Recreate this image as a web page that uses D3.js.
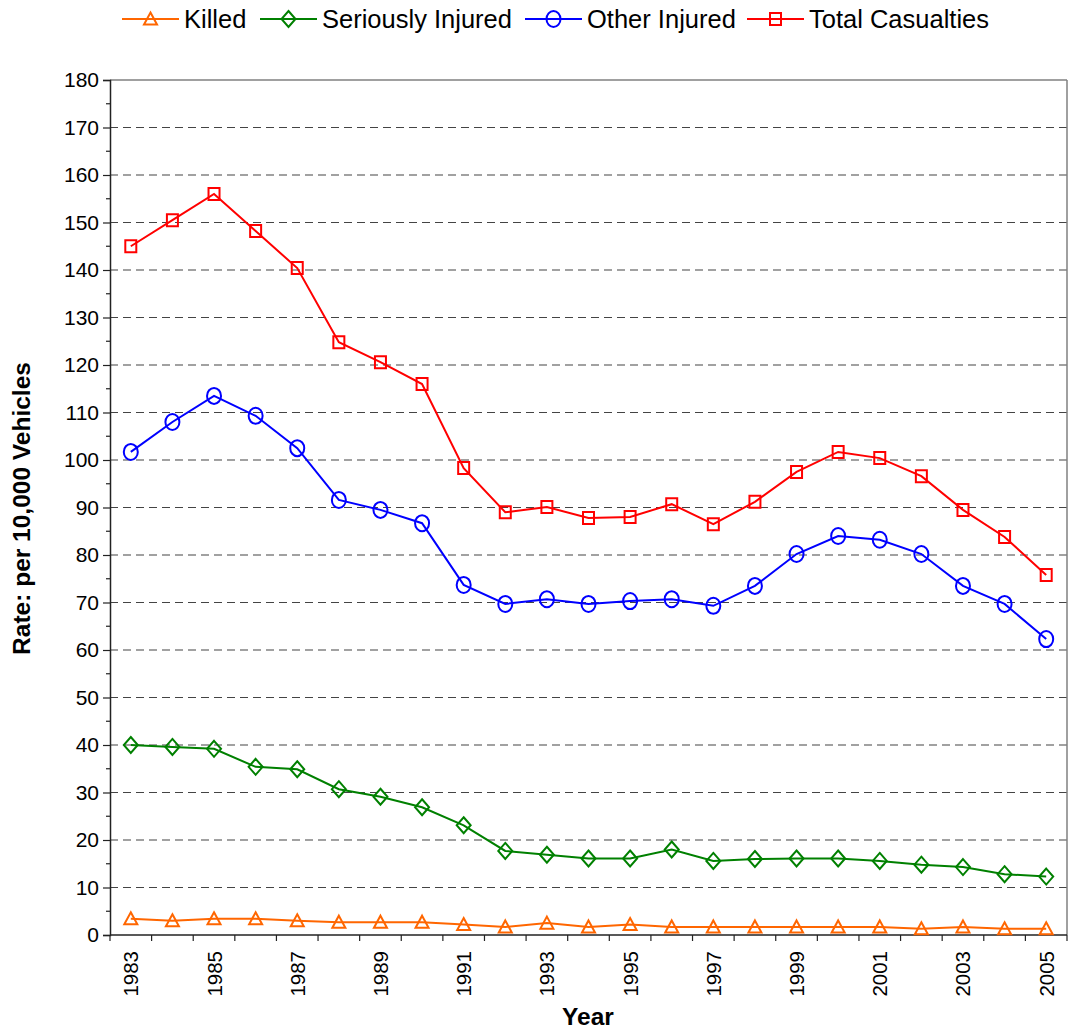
<!DOCTYPE html>
<html>
<head>
<meta charset="utf-8">
<script src="https://cdn.jsdelivr.net/npm/d3@7"></script>
<style>
  html, body { margin: 0; padding: 0; background: #fff; }
  svg { display: block; font-family: "Liberation Sans", Arial, sans-serif; }
</style>
</head>
<body>
<svg id="chart" width="1072" height="1035"></svg>
<script>
const years = [1983,1984,1985,1986,1987,1988,1989,1990,1991,1992,1993,1994,1995,1996,1997,1998,1999,2000,2001,2002,2003,2004,2005];
const killed = [3.4,3.0,3.4,3.4,3.0,2.7,2.7,2.7,2.2,1.7,2.5,1.7,2.2,1.7,1.7,1.7,1.7,1.7,1.7,1.3,1.7,1.3,1.3];
const seriouslyInjured = [40.0,39.6,39.2,35.4,34.9,30.7,29.1,26.9,23.1,17.7,16.9,16.1,16.1,18.0,15.6,16.0,16.1,16.1,15.6,14.8,14.3,12.8,12.3];
const otherInjured = [101.7,108.0,113.5,109.3,102.5,91.6,89.5,86.7,73.7,69.7,70.7,69.7,70.3,70.7,69.3,73.5,80.2,84.0,83.2,80.2,73.5,69.7,62.3];
const totalCasualties = [145.0,150.5,156.0,148.2,140.4,124.8,120.6,116.0,98.3,89.0,90.1,87.8,88.0,90.7,86.5,91.2,97.5,101.7,100.4,96.6,89.5,83.8,75.8];
const seriesNames = ["Killed","Seriously Injured","Other Injured","Total Casualties"];
const yTicks = [0,10,20,30,40,50,60,70,80,90,100,110,120,130,140,150,160,170,180];
const xLabelYears = [1983,1985,1987,1989,1991,1993,1995,1997,1999,2001,2003,2005];
const yTitle = "Rate: per 10,000 Vehicles";
const xTitle = "Year";

const seriesStyle = [
  {name: seriesNames[0], values: killed, color: "#FF6600", marker: "triangle"},
  {name: seriesNames[1], values: seriouslyInjured, color: "#008000", marker: "diamond"},
  {name: seriesNames[2], values: otherInjured, color: "#0000FF", marker: "circle"},
  {name: seriesNames[3], values: totalCasualties, color: "#FF0000", marker: "square"}
];

const L = 110, R = 1067, T = 80, B = 935;
const svg = d3.select("#chart");

const x = d3.scaleBand().domain(years).range([L, R]).padding(0);
const y = d3.scaleLinear().domain([0, 180]).range([B, T]);
const cx = yr => x(yr) + x.bandwidth() / 2;

// gridlines
svg.append("g").selectAll("line").data(yTicks.filter(t => t > 0 && t < 180)).join("line")
  .attr("x1", L).attr("x2", R)
  .attr("y1", d => y(d)).attr("y2", d => y(d))
  .attr("stroke", "#444").attr("stroke-width", 1.2).attr("stroke-dasharray", "8,5");

// plot border top/right
svg.append("line").attr("x1", L).attr("x2", R).attr("y1", y(180)).attr("y2", y(180))
  .attr("stroke", "#808080").attr("stroke-width", 1.5);
svg.append("line").attr("x1", R).attr("x2", R).attr("y1", T).attr("y2", B)
  .attr("stroke", "#808080").attr("stroke-width", 1.5);

// y axis
const yAxis = svg.append("g").attr("transform", `translate(${L},0)`)
  .call(d3.axisLeft(y).tickValues(yTicks).tickSize(7).tickPadding(4).tickFormat(d3.format("d")));
yAxis.select(".domain").attr("stroke", "#222").attr("stroke-width", 1.5);
yAxis.selectAll(".tick line").attr("stroke", "#222").attr("stroke-width", 1.2);
yAxis.selectAll("text").attr("font-size", 21).attr("fill", "#000")
  .attr("font-family", "Liberation Sans, Arial, sans-serif");
// minor ticks
const minor = d3.range(5, 180, 10);
svg.append("g").selectAll("line").data(minor).join("line")
  .attr("x1", L - 4).attr("x2", L).attr("y1", d => y(d)).attr("y2", d => y(d))
  .attr("stroke", "#222").attr("stroke-width", 1.2);

// x axis
svg.append("line").attr("x1", L).attr("x2", R).attr("y1", B).attr("y2", B)
  .attr("stroke", "#222").attr("stroke-width", 1.5);
const edges = years.map(yr => x(yr)).concat([R]);
svg.append("g").selectAll("line").data(edges).join("line")
  .attr("x1", d => d).attr("x2", d => d).attr("y1", B).attr("y2", B + 6)
  .attr("stroke", "#222").attr("stroke-width", 1.2);
svg.append("g").selectAll("text").data(xLabelYears).join("text")
  .attr("transform", d => `translate(${cx(d) + 7.5},${B + 16}) rotate(-90)`)
  .attr("text-anchor", "end")
  .attr("font-size", 20.5).attr("fill", "#000")
  .text(d => d);

// axis titles
svg.append("text")
  .attr("transform", `translate(30,${(T + B) / 2 + 1}) rotate(-90)`)
  .attr("text-anchor", "middle").attr("font-size", 24.5).attr("font-weight", "bold")
  .text(yTitle);
svg.append("text")
  .attr("x", 588).attr("y", 1025)
  .attr("text-anchor", "middle").attr("font-size", 24.5).attr("font-weight", "bold")
  .text(xTitle);

// marker shapes
function markerPath(type) {
  if (type === "triangle") return "M0,-6.5 L6.5,5.5 L-6.5,5.5 Z";
  if (type === "diamond") return "M0,-8 L7,0 L0,8 L-7,0 Z";
  if (type === "square") return "M-5.5,-6 L5.5,-6 L5.5,6 L-5.5,6 Z";
  return null;
}
function drawMarker(g, type, color) {
  if (type === "circle") {
    g.append("ellipse").attr("rx", 7).attr("ry", 8)
      .attr("fill", "none").attr("stroke", color).attr("stroke-width", 2);
  } else {
    g.append("path").attr("d", markerPath(type))
      .attr("fill", "none").attr("stroke", color).attr("stroke-width", 2);
  }
}

const line = d3.line().x((d, i) => cx(years[i])).y(d => y(d));
seriesStyle.forEach(s => {
  svg.append("path").datum(s.values).attr("d", line)
    .attr("fill", "none").attr("stroke", s.color).attr("stroke-width", 2);
  s.values.forEach((v, i) => {
    const g = svg.append("g").attr("transform", `translate(${cx(years[i])},${y(v)})`);
    drawMarker(g, s.marker, s.color);
  });
});

// legend
const legendX = [122, 260, 525, 747];
const legendY = 19;
seriesStyle.forEach((s, i) => {
  const lx = legendX[i];
  svg.append("line").attr("x1", lx).attr("x2", lx + 57).attr("y1", legendY).attr("y2", legendY)
    .attr("stroke", s.color).attr("stroke-width", 2);
  const g = svg.append("g").attr("transform", `translate(${lx + 28.5},${legendY})`);
  drawMarker(g, s.marker, s.color);
  svg.append("text").attr("x", lx + 62).attr("y", legendY).attr("dy", "0.35em")
    .attr("font-size", 25.5).attr("fill", "#000").text(s.name);
});
</script>
</body>
</html>
